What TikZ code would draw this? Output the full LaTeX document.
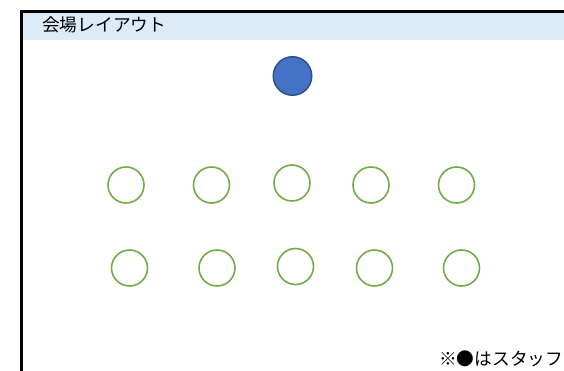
\documentclass[tikz,border=0pt]{standalone}
\usepackage{fontspec}
\newfontfamily\jpfont{Noto Sans CJK JP}
\usepackage{tikz}
\definecolor{cHead}{HTML}{DDEBF7}
\definecolor{cSeat}{HTML}{70AD47}
\definecolor{cStaff}{HTML}{4472C4}
\definecolor{cStaffLine}{HTML}{2F528F}
\tikzset{
  seat/.style={circle, draw=cSeat, line width=1.6pt, fill=white,
               minimum size=36pt, inner sep=0pt},
  staff/.style={circle, draw=cStaffLine, line width=1.5pt, fill=cStaff,
                minimum size=38.5pt, inner sep=0pt},
  lbl/.style={font=\jpfont\fontsize{17.7pt}{21pt}\selectfont, inner sep=0pt},
  frame/.style={line width=3pt, draw=black},
}
\begin{document}
\begin{tikzpicture}[x=1pt, y=-1pt]
  \useasboundingbox (0,0) rectangle (564,371);
  \clip (0,0) rectangle (564,371);
  % frame and header band
  \fill[cHead] (23,13) rectangle (570,40);
  \coordinate (fbl) at (21.5,380);
  \coordinate (ftl) at (21.5,11.5);
  \coordinate (ftr) at (570,11.5);
  \draw[frame] (fbl) -- (ftl) -- (ftr);
  \node[lbl, anchor=base west] (title) at (42,31.5) {会場レイアウト};

  % staff
  \node[staff] (staff) at (292.5,76) {};

  % seats
  \foreach \x/\y [count=\i] in {126/185, 211.5/185, 292/183, 371/185, 456.5/185}
    \node[seat] (a\i) at (\x,\y) {};
  \foreach \x/\y [count=\i] in {129.5/268, 217/268, 295.5/266.5, 374.5/268, 461.5/268}
    \node[seat] (b\i) at (\x,\y) {};

  \node[lbl, anchor=base west] (note) at (439,365) {※●はスタッフ};
\end{tikzpicture}
\end{document}
